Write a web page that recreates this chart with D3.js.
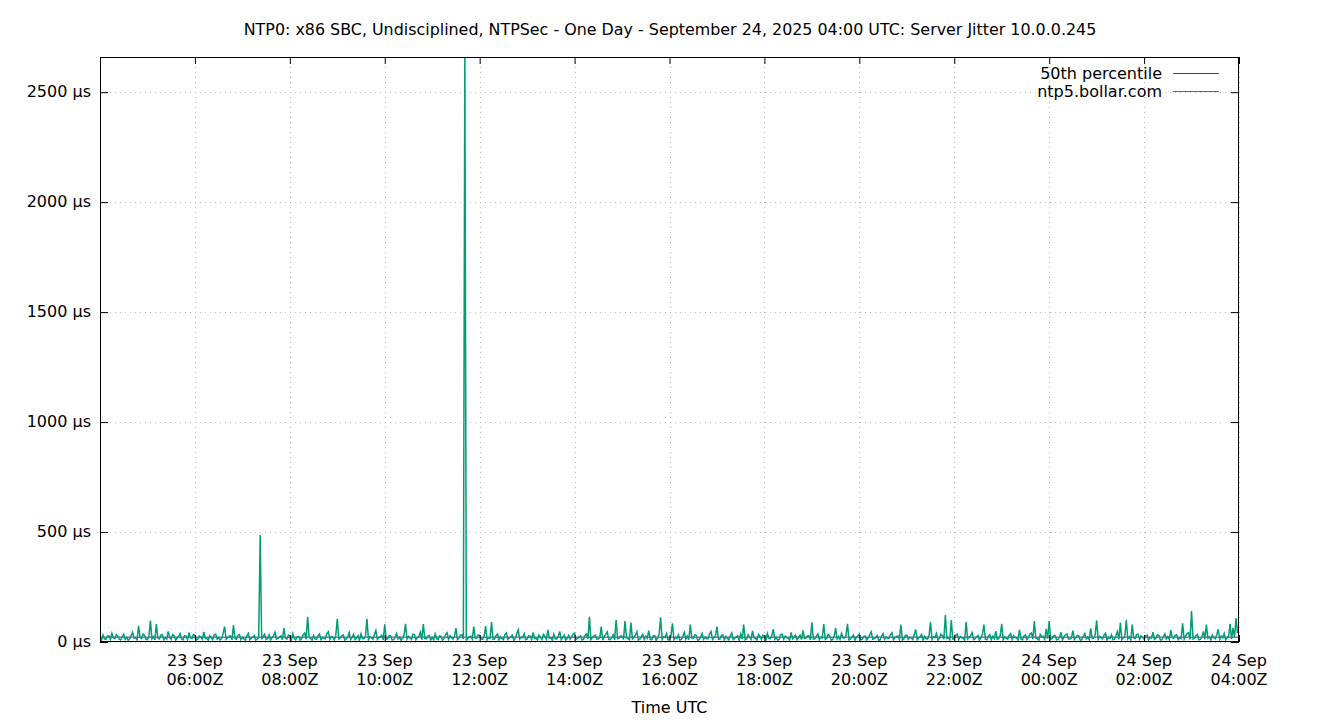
<!DOCTYPE html>
<html>
<head>
<meta charset="utf-8">
<script src="https://cdn.jsdelivr.net/npm/d3@7"></script>
<style>
	body { margin: 0; background: #fff; }
	svg { font-family: "DejaVu Sans", sans-serif; }
</style>
</head>
<body>
<div id="chart"></div>
<script>
var title = "NTP0: x86 SBC, Undisciplined, NTPSec - One Day - September 24, 2025 04:00 UTC: Server Jitter 10.0.0.245";
var startTime = "2025-09-23T04:00:00Z";
var endTime = "2025-09-24T04:00:00Z";
var stepMinutes = 1.875;
var percentile50 = 22;
var yTicks = [0, 500, 1000, 1500, 2000, 2500];
var xTicks = ["2025-09-23T06:00:00Z", "2025-09-23T08:00:00Z", "2025-09-23T10:00:00Z", "2025-09-23T12:00:00Z",
	"2025-09-23T14:00:00Z", "2025-09-23T16:00:00Z", "2025-09-23T18:00:00Z", "2025-09-23T20:00:00Z",
	"2025-09-23T22:00:00Z", "2025-09-24T00:00:00Z", "2025-09-24T02:00:00Z", "2025-09-24T04:00:00Z"];
var legendNames = ["50th percentile", "ntp5.bollar.com"];
var legendColors = ["#9400d3", "#009e73"];

// jitter in µs, one row per hour (32 samples)
var jitter = [
	18,9, 32,14, 12,27, 28,11, 40,19, 15,33, 26,13, 9,24, 35,12, 22,8, 14,30, 44,17, 20,10, 74,21, 16,36, 30,12,
	11,26, 97,15, 25,9, 82,18, 14,31, 33,10, 20,13, 48,22, 12,34, 29,8, 18,25, 38,14, 10,29, 27,11, 42,19, 16,35,
	31,10, 13,27, 24,12, 46,16, 17,8, 29,20, 11,32, 36,13, 21,9, 15,38, 70,12, 19,26, 28,10, 77,17, 12,30, 34,11,
	22,14, 9,28, 39,10, 17,23, 30,8, 14,19, 487,12, 25,35, 11,16, 33,9, 20,27, 45,13, 16,22, 28,10, 63,18, 13,31,
	27,11, 38,16, 10,25, 24,9, 17,33, 41,12, 115,20, 19,8, 30,14, 12,29, 36,10, 22,17, 15,39, 47,12, 26,21, 9,30,
	105,13, 18,27, 32,9, 14,22, 43,11, 21,35, 11,18, 29,8, 37,15, 16,26, 105,10, 24,19, 13,33, 52,12, 20,24, 31,9,
	80,12, 15,29, 28,9, 10,21, 39,14, 22,8, 17,31, 83,13, 26,18, 12,36, 34,10, 19,25, 45,11, 82,16, 14,27, 30,9,
	21,10, 37,15, 11,28, 25,8, 16,34, 42,12, 28,19, 13,24, 63,11, 19,30, 33,14, 2700,9, 15,23, 26,12, 70,17, 18,32,
	29,13, 12,26, 72,10, 20,17, 91,12, 14,29, 36,9, 24,15, 10,33, 41,11, 18,24, 31,8, 15,37, 55,13, 22,19, 38,10,
	13,28, 27,11, 44,16, 17,9, 32,21, 11,34, 25,12, 55,18, 19,8, 35,14, 14,27, 48,10, 21,31, 9,16, 30,12, 23,36,
	40,11, 16,24, 28,9, 12,30, 37,14, 115,10, 20,27, 31,13, 14,20, 70,8, 25,35, 46,12, 11,18, 33,9, 100,15, 18,28,
	27,12, 95,19, 15,10, 88,14, 22,31, 47,9, 13,25, 35,11, 26,17, 52,13, 10,28, 29,8, 19,34, 112,12, 24,20, 38,10,
	14,29, 85,11, 21,16, 33,9, 12,26, 44,13, 27,10, 79,19, 17,32, 30,8, 11,23, 39,12, 23,15, 15,36, 48,11, 20,27,
	70,12, 13,30, 32,9, 25,17, 10,28, 41,11, 18,22, 29,8, 36,14, 79,10, 14,33, 22,12, 50,19, 16,9, 34,25, 11,31,
	26,10, 39,17, 15,29, 58,12, 21,8, 12,34, 35,13, 27,20, 17,9, 44,15, 24,31, 10,22, 31,11, 53,16, 19,27, 28,9,
	89,13, 14,26, 37,10, 22,18, 81,12, 16,35, 29,9, 11,24, 64,14, 25,11, 40,19, 18,30, 83,10, 13,22, 32,8, 21,28,
	35,11, 12,25, 27,9, 19,32, 46,13, 15,20, 30,8, 10,27, 38,12, 23,16, 17,34, 42,10, 20,24, 28,13, 79,9, 14,30,
	31,12, 22,18, 11,33, 57,10, 18,25, 34,9, 26,15, 13,29, 91,11, 24,20, 39,8, 16,36, 29,13, 123,17, 20,10, 100,14,
	12,31, 36,10, 25,19, 17,9, 91,14, 21,28, 43,11, 14,23, 30,8, 19,35, 79,12, 11,26, 33,10, 27,16, 49,12, 16,29,
	83,10, 24,17, 13,30, 38,12, 28,21, 18,9, 55,14, 10,27, 32,11, 22,36, 41,13, 95,18, 15,8, 35,24, 26,12, 60,15,
	95,12, 17,28, 30,10, 12,22, 44,9, 24,33, 36,13, 15,19, 52,11, 20,30, 28,8, 11,25, 39,14, 23,10, 62,17, 18,32,
	98,13, 26,20, 14,31, 40,9, 21,16, 33,11, 12,28, 47,12, 88,10, 19,24, 100,14, 24,9, 79,18, 16,34, 35,12, 28,21,
	13,27, 31,10, 22,18, 45,12, 17,33, 29,9, 10,24, 37,14, 25,11, 54,20, 16,30, 33,10, 20,16, 85,13, 27,38, 42,11,
	141,14, 18,29, 34,10, 12,25, 48,12, 79,17, 23,9, 31,20, 15,34, 58,12, 26,19, 39,10, 20,27, 83,13, 64,22, 109,40
];

var width = 1340, height = 720;
var margin = {top: 57, right: 101, bottom: 78, left: 100};
var fontSize = "16px";
var t0 = new Date(startTime);
var data = jitter.map((v, i) => ({t: new Date(t0.getTime() + i * stepMinutes * 60000), v: v}));

var svg = d3.select("#chart").append("svg")
	.attr("width", width)
	.attr("height", height);

var x = d3.scaleUtc()
	.domain([t0, new Date(endTime)])
	.range([margin.left, width - margin.right]);
var y = d3.scaleLinear()
	.domain([0, 2660])
	.range([height - margin.bottom, margin.top]);

svg.append("text")
	.attr("x", width / 2)
	.attr("y", 35)
	.attr("text-anchor", "middle")
	.style("font-size", "15.9px")
	.text(title);

// grid
var grid = svg.append("g")
	.attr("stroke", "#b8b8b8")
	.attr("stroke-width", 1)
	.attr("stroke-dasharray", "1,4");
grid.selectAll(".gx")
	.data(xTicks.map(d => new Date(d)))
	.enter().append("line")
	.attr("x1", d => Math.round(x(d)) + 0.5)
	.attr("x2", d => Math.round(x(d)) + 0.5)
	.attr("y1", margin.top)
	.attr("y2", height - margin.bottom);
grid.selectAll(".gy")
	.data(yTicks)
	.enter().append("line")
	.attr("x1", margin.left)
	.attr("x2", width - margin.right)
	.attr("y1", d => Math.round(y(d)) + 0.5)
	.attr("y2", d => Math.round(y(d)) + 0.5);

svg.append("clipPath").attr("id", "plot-clip")
	.append("rect")
	.attr("x", margin.left)
	.attr("y", margin.top)
	.attr("width", width - margin.left - margin.right)
	.attr("height", height - margin.top - margin.bottom);

var plot = svg.append("g").attr("clip-path", "url(#plot-clip)");

plot.append("line")
	.attr("x1", margin.left)
	.attr("x2", width - margin.right)
	.attr("y1", y(percentile50))
	.attr("y2", y(percentile50))
	.attr("stroke", legendColors[0])
	.attr("stroke-width", 1);

var line = d3.line()
	.x(d => x(d.t))
	.y(d => y(d.v));

plot.append("path")
	.datum(data)
	.attr("fill", "none")
	.attr("stroke", legendColors[1])
	.attr("stroke-width", 1.5)
	.attr("stroke-linejoin", "miter")
	.attr("d", line);

// axes (gnuplot style: inward ticks, mirrored)
var xAxis = d3.axisBottom(x)
	.tickValues(xTicks.map(d => new Date(d)))
	.tickSize(-7)
	.tickFormat("");
var xAxisTop = d3.axisTop(x)
	.tickValues(xTicks.map(d => new Date(d)))
	.tickSize(-7)
	.tickFormat("");
var yAxis = d3.axisLeft(y)
	.tickValues(yTicks)
	.tickSize(-8)
	.tickFormat("");
var yAxisRight = d3.axisRight(y)
	.tickValues(yTicks)
	.tickSize(-8)
	.tickFormat("");

svg.append("g").attr("transform", `translate(0,${height - margin.bottom})`).call(xAxis);
svg.append("g").attr("transform", `translate(0,${margin.top})`).call(xAxisTop);
svg.append("g").attr("transform", `translate(${margin.left},0)`).call(yAxis);
svg.append("g").attr("transform", `translate(${width - margin.right},0)`).call(yAxisRight);
svg.selectAll(".domain").remove();
svg.selectAll(".tick line").attr("stroke", "#000");

svg.append("rect")
	.attr("x", margin.left + 0.5)
	.attr("y", margin.top + 0.5)
	.attr("width", width - margin.left - margin.right - 1)
	.attr("height", height - margin.top - margin.bottom - 1)
	.attr("fill", "none")
	.attr("stroke", "#000")
	.attr("stroke-width", 1);

// tick labels
svg.selectAll(".ylab")
	.data(yTicks)
	.enter().append("text")
	.attr("x", margin.left - 9)
	.attr("y", d => y(d) + 5)
	.attr("text-anchor", "end")
	.style("font-size", fontSize)
	.text(d => d + " µs");

var fmtDay = d3.utcFormat("%d %b"), fmtHour = d3.utcFormat("%H:%MZ");
var xl = svg.selectAll(".xlab")
	.data(xTicks.map(d => new Date(d)))
	.enter().append("text")
	.attr("text-anchor", "middle")
	.style("font-size", fontSize)
	.attr("transform", d => `translate(${x(d)},${height - margin.bottom})`);
xl.append("tspan").attr("x", 0).attr("y", 24).text(d => fmtDay(d));
xl.append("tspan").attr("x", 0).attr("y", 43).text(d => fmtHour(d));

svg.append("text")
	.attr("x", (margin.left + width - margin.right) / 2)
	.attr("y", 713)
	.attr("text-anchor", "middle")
	.style("font-size", fontSize)
	.text("Time UTC");

// legend
var legend = svg.append("g");
legendNames.forEach(function(name, i) {
	var ly = 73 + i * 18;
	legend.append("text")
		.attr("x", 1162)
		.attr("y", ly + 6)
		.attr("text-anchor", "end")
		.style("font-size", fontSize)
		.text(name);
	legend.append("line")
		.attr("x1", 1173)
		.attr("x2", 1219)
		.attr("y1", ly + 0.5)
		.attr("y2", ly + 0.5)
		.attr("stroke", legendColors[i])
		.attr("stroke-width", 1);
});
</script>
</body>
</html>
